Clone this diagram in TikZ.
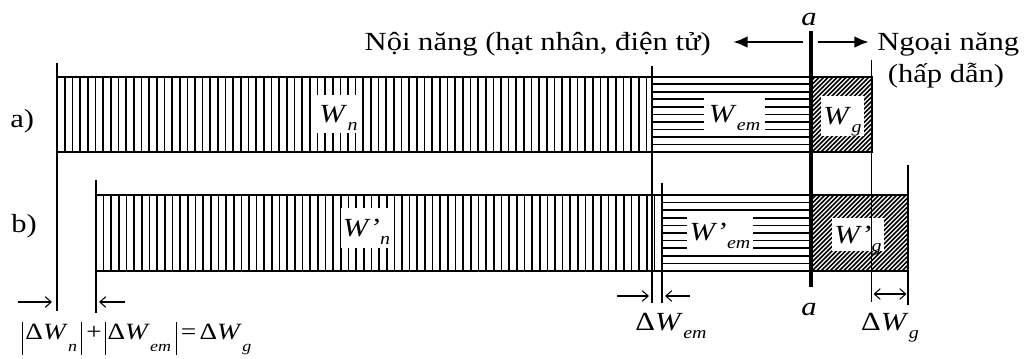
\documentclass[tikz,border=0pt]{standalone}
\usepackage{fontspec}
\setmainfont{Liberation Serif}[FakeStretch=1.17]
\usetikzlibrary{arrows.meta}

% italic symbol with a lowered italic subscript
\newcommand\Wsub[2]{\textit{#1}\kern0.3pt\raisebox{-6pt}{\fontsize{12.8}{12.8}\selectfont\textit{#2}}}
% same, with the deeper subscript used in the balance formula
\newcommand\Fsub[2]{\textit{#1}\kern0.2pt\raisebox{-9.5pt}{\fontsize{11.5}{11.5}\selectfont\textit{#2}}}
\newcommand\absbar{\rule[-12pt]{0.9pt}{25pt}}

\begin{document}
\begin{tikzpicture}[x=0.75pt,y=-0.75pt,
    font=\fontsize{19.6}{23}\selectfont,
    barline/.style={line width=1.6pt},
    thinline/.style={line width=0.8pt},
    axisline/.style={line width=2.4pt},
    hatchline/.style={line width=1.25pt},
    diagline/.style={line width=1.25pt},
    boxlabel/.style={fill=white,inner xsep=1.5pt,inner ysep=0pt,text depth=0pt,anchor=center},
    bigarrow/.style={line width=2.2pt,-{Latex[length=11pt,width=9pt]}},
    smallarrow/.style={line width=0.8pt,-{Straight Barb[length=4.5pt,width=8pt]}},
    dblarrow/.style={line width=0.8pt,{Straight Barb[length=4.5pt,width=8pt]}-{Straight Barb[length=4.5pt,width=8pt]}},
  ]
\useasboundingbox (0,0) rectangle (1026,358);

% ---- key positions ----
\coordinate (aL) at (57.3,76.7);  % bar a, left top
\coordinate (bL) at (96,195);     % bar b, left top

% ---- bar a: hatching ----
\begin{scope}
  \clip (57.3,76.7) rectangle (652,152);
  \foreach \k in {0,...,78} \draw[hatchline] (57.3+\k*7.65,76.7) -- ++(0,75.3);
\end{scope}
\begin{scope}
  \clip (652,76.7) rectangle (811,152);
  \foreach \k in {1,...,9} \draw[hatchline] (652,76.7+\k*7.53) -- ++(159,0);
\end{scope}
\begin{scope}
  \clip (811,76.7) rectangle (871.7,152);
  \foreach \k in {0,...,34} \draw[diagline] (811-80+\k*4.5,152) -- ++(80,-80);
\end{scope}

% ---- bar b: hatching ----
\begin{scope}
  \clip (96,195) rectangle (662,271);
  \foreach \k in {0,...,75} \draw[hatchline] (96+\k*7.65,195) -- ++(0,76);
\end{scope}
\begin{scope}
  \clip (662,195) rectangle (811,271);
  \foreach \k in {1,...,9} \draw[hatchline] (662,195+\k*7.6) -- ++(149,0);
\end{scope}
\begin{scope}
  \clip (811,195) rectangle (908,271);
  \foreach \k in {0,...,45} \draw[diagline] (811-80+\k*4.5,271) -- ++(80,-80);
\end{scope}

% ---- labels inside the bars ----
\node[boxlabel,minimum width=41*0.75pt,minimum height=38*0.75pt] (wn) at (338.5,114) {\Wsub{W}{n}};
\node[boxlabel,minimum width=61*0.75pt,minimum height=39*0.75pt] (wem) at (734.5,113.5) {\Wsub{W}{em}};
\node[boxlabel,minimum width=41*0.75pt,minimum height=40*0.75pt] (wg) at (842.5,116) {\Wsub{W}{g}};
\node[boxlabel,minimum width=47*0.75pt,minimum height=40*0.75pt] (wnp) at (366.5,228) {\Wsub{W\kern1pt’}{n}};
\node[boxlabel,minimum width=66*0.75pt,minimum height=40*0.75pt] (wemp) at (720,232) {\Wsub{W\kern1pt’}{em}};
\node[boxlabel,minimum width=50*0.75pt,minimum height=33*0.75pt] (wgp) at (858,234.5) {\Wsub{W\kern1pt’}{g}};

% ---- bar outlines ----
\draw[barline] (57.3,76.7) rectangle (871.7,152);
\draw[barline] (96,195) rectangle (908,271);

% ---- vertical marker lines ----
\draw[barline] (57.3,63) -- (57.3,311);
\draw[barline] (96,180) -- (96,313);
\draw[thinline] (652,66) -- (652,303);
\draw[thinline] (662,183) -- (662,303);
\draw[thinline] (871.7,60) -- (871.7,302);
\draw[thinline] (908,165) -- (908,305);
\draw[axisline] (811,31) -- (811,287);

% ---- axis labels ----
\node[anchor=base] (atop) at (809,25) {\textit{a}};
\node[anchor=base] (abot) at (809,315) {\textit{a}};

% ---- row labels ----
\node[anchor=base west,inner sep=0pt] (rowa) at (10,127) {a)};
\node[anchor=base west,inner sep=0pt] (rowb) at (11,232) {b)};

% ---- top captions and arrows ----
\node[anchor=base east,inner sep=0pt] (inner) at (711,50) {Nội năng (hạt nhân, điện tử)};
\node[anchor=base west,inner sep=0pt] (outer) at (877,50) {Ngoại năng};
\node[anchor=base,inner sep=0pt] (outer2) at (946,82) {(hấp dẫn)};
\coordinate (lstart) at (803,42);
\coordinate (lend) at (733,42);
\coordinate (rstart) at (818,42);
\coordinate (rend) at (869,42);
\draw[bigarrow] (lstart) -- (lend);
\draw[bigarrow] (rstart) -- (rend);

% ---- bottom difference markers ----
\coordinate (p1) at (18,302);  \coordinate (p2) at (52,302);
\coordinate (p3) at (125,302); \coordinate (p4) at (99,302);
\draw[smallarrow] (p1) -- (p2);
\draw[smallarrow] (p3) -- (p4);
\coordinate (q1) at (617,296); \coordinate (q2) at (649,296);
\coordinate (q3) at (690,296); \coordinate (q4) at (665,296);
\draw[smallarrow] (q1) -- (q2);
\draw[smallarrow] (q3) -- (q4);
\coordinate (g1) at (873.5,294); \coordinate (g2) at (906.5,294);
\draw[dblarrow] (g1) -- (g2);

\node[anchor=base,inner sep=0pt] (dwem) at (671,330) {Δ\Wsub{W}{em}};
\node[anchor=base,inner sep=0pt] (dwg) at (890,330) {Δ\Wsub{W}{g}};
\node[anchor=base west,inner sep=0pt,font=\fontsize{17.5}{20}\selectfont] (sumeq) at (22,339)
  {\absbar\kern1.5pt Δ\Fsub{W}{n}\kern3pt\absbar\kern3pt+\kern2.5pt\absbar\kern1pt Δ\Fsub{W}{em}\kern3.5pt\absbar\kern3pt=\kern2.5pt Δ\Fsub{W}{g}};
\end{tikzpicture}
\end{document}
